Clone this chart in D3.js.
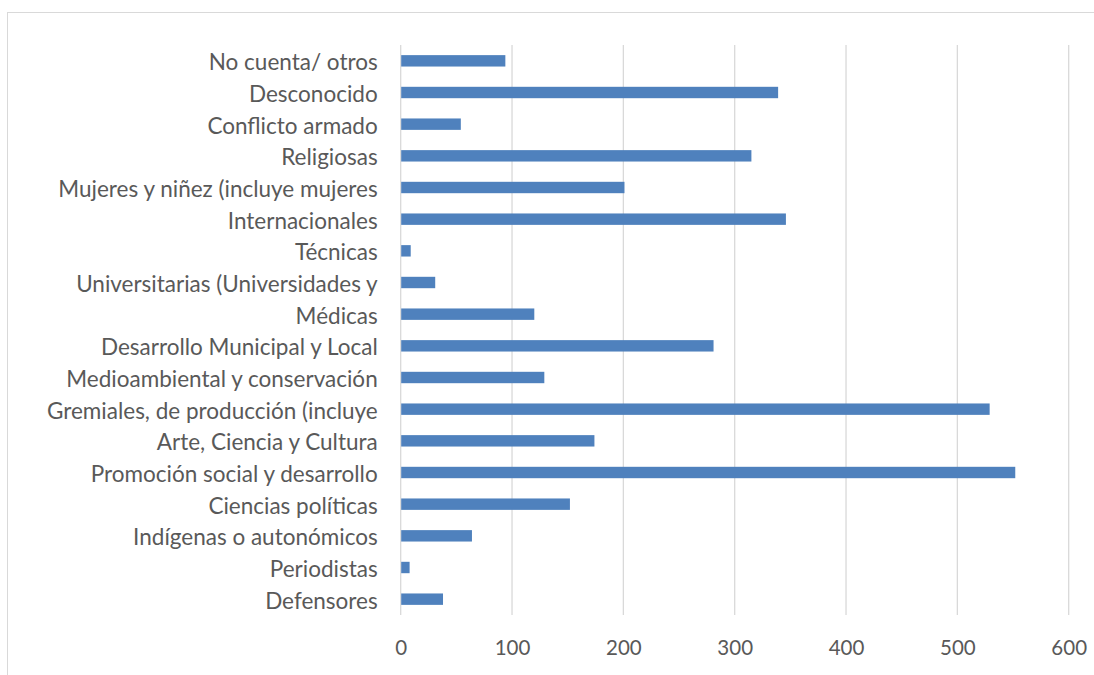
<!DOCTYPE html>
<html>
<head>
<meta charset="utf-8">
<script src="https://cdn.jsdelivr.net/npm/d3@7"></script>
<style>
  html, body { margin: 0; padding: 0; background: #fff; }
  svg { display: block; }
</style>
</head>
<body>
<svg id="chart" width="1094" height="675"></svg>
<script>
const categories = [
  "No cuenta/ otros",
  "Desconocido",
  "Conflicto armado",
  "Religiosas",
  "Mujeres y niñez (incluye mujeres",
  "Internacionales",
  "Técnicas",
  "Universitarias (Universidades y",
  "Médicas",
  "Desarrollo Municipal y Local",
  "Medioambiental y conservación",
  "Gremiales, de producción (incluye",
  "Arte, Ciencia y Cultura",
  "Promoción social y desarrollo",
  "Ciencias políticas",
  "Indígenas o autonómicos",
  "Periodistas",
  "Defensores"
];
const values = [94, 339, 54, 315, 201, 346, 9, 31, 120, 281, 129, 529, 174, 552, 152, 64, 8, 38];
const tickValues = [0, 100, 200, 300, 400, 500, 600];

const svg = d3.select("#chart");
const font = "Lato, 'Open Sans', sans-serif";
const textColor = "#595959";
const gridColor = "#d9d9d9";

// outer chart border
svg.append("rect")
  .attr("x", 7.5).attr("y", 12.5)
  .attr("width", 1200).attr("height", 800)
  .attr("fill", "none").attr("stroke", gridColor).attr("stroke-width", 1);

const x = d3.scaleLinear().domain([0, 600]).range([400.7, 1068.7]);
const y = d3.scaleBand().domain(categories).range([45, 615]).paddingInner(0.64).paddingOuter(0.32);

// gridlines
svg.append("g").selectAll("line")
  .data(tickValues).join("line")
  .attr("x1", d => x(d)).attr("x2", d => x(d))
  .attr("y1", 45).attr("y2", 615)
  .attr("stroke", gridColor).attr("stroke-width", 1.3);

// bars
svg.append("g").selectAll("rect")
  .data(categories).join("rect")
  .attr("x", x(0) + 0.5)
  .attr("y", d => y(d))
  .attr("width", (d, i) => x(values[i]) - x(0) - 0.5)
  .attr("height", y.bandwidth())
  .attr("fill", "#4f81bd");

// y axis labels
const yAxis = d3.axisLeft(y).tickSize(0).tickPadding(23);
const yg = svg.append("g").attr("transform", `translate(${x(0)},0)`).call(yAxis);
yg.select(".domain").remove();
yg.selectAll("text").attr("font-family", font).attr("font-size", 22.5).attr("fill", textColor).attr("dy", "0.42em");

// x axis labels
const xAxis = d3.axisBottom(x).tickValues(tickValues).tickSize(0).tickPadding(0);
const xg = svg.append("g").attr("transform", `translate(0,${640})`).call(xAxis);
xg.select(".domain").remove();
xg.selectAll("text").attr("font-family", font).attr("font-size", 20.5).attr("fill", textColor).attr("dy", "0.71em");
</script>
</body>
</html>
